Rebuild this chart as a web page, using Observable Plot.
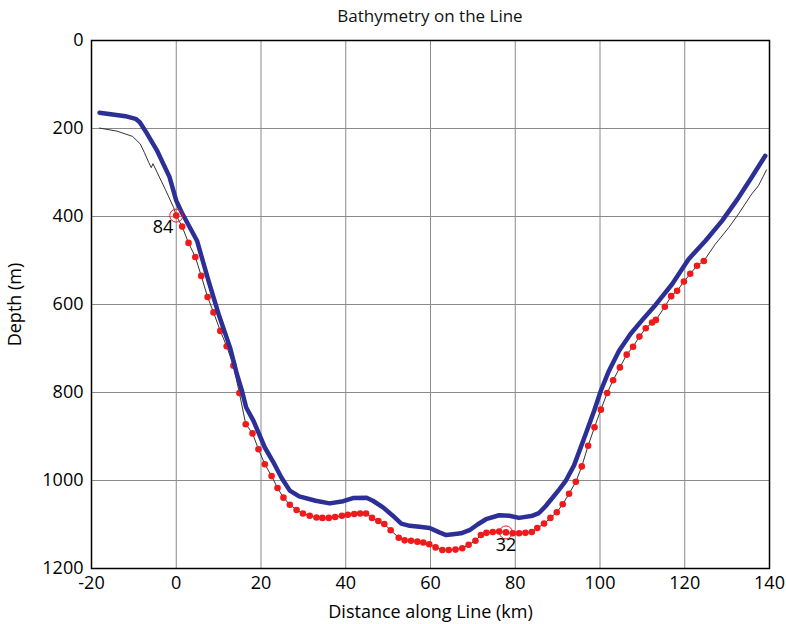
<!DOCTYPE html>
<html><head><meta charset="utf-8">
<script src="https://cdn.jsdelivr.net/npm/d3@7"></script>
<script src="https://cdn.jsdelivr.net/npm/@observablehq/plot@0.6"></script>
<style>
body{margin:0;background:#fff;font-family:"Open Sans",sans-serif;}
#title{margin-left:74px;width:712px;text-align:center;font-size:17px;height:28px;line-height:32px;color:#111;}
</style></head><body>
<div id="title">Bathymetry on the Line</div>
<div id="chart"></div>
<script>
const xTicks = [-20, 0, 20, 40, 60, 80, 100, 120, 140];
const yTicks = [0, 200, 400, 600, 800, 1000, 1200];

// blue survey line (km, depth m)
const blueKm = [-18.1,-15,-12,-9.6,-8.6,-7,-4.6,-1.6,0,1.3,4.9,7.6,10.0,12.7,14.3,15.5,16.5,18.2,20.9,22.9,24.8,26.8,29,32.9,36.2,39.4,41.7,44.9,46.4,48.8,51.1,53.1,55.1,57.4,59.8,62.1,63.7,65.3,67.2,69.2,71.1,73.1,76.2,78.6,80.9,84.1,85.6,87.2,90.4,91.9,93.9,96.6,98.6,100.2,102.1,104.5,107.2,110,113.1,117,120.9,124.9,128.8,132.7,135.8,139];
const blueDepth = [164,168,172,178,186,210,249,310,364,391,455,546,622,698,758,796,834,864,925,958,993,1023,1036,1046,1052,1047,1040,1039,1046,1061,1080,1098,1103,1105,1108,1118,1124,1122,1120,1113,1100,1088,1079,1080,1085,1080,1074,1058,1020,1001,965,895,842,796,751,705,667,635,601,554,497,455,410,357,311,262];

// stations (red dots), from station 84 down to station 1
const stationKm = [0,1.4,2.9,4.5,5.9,7.4,8.8,10.4,11.9,13.5,14.9,16.4,18.0,19.4,20.9,22.5,23.9,25.3,26.8,28.4,29.9,31.5,33.1,34.5,36.0,37.5,39.1,40.5,42.0,43.4,44.8,46.2,47.7,49.1,50.6,52.5,53.9,55.4,56.9,58.3,59.7,61.2,62.8,64.3,65.9,67.5,69.0,70.6,71.9,73.2,74.7,76.2,77.8,79.4,80.9,82.4,83.9,85.2,86.8,88.3,89.8,91.2,92.7,94.3,95.7,97.2,98.7,100.2,101.7,103.1,104.7,106.3,107.8,109.3,110.8,112.3,113.2,115.3,116.8,118.2,119.8,121.3,122.9,124.5];
const stationDepth = [398,423,460,492,535,583,618,660,695,739,801,872,893,929,963,990,1017,1039,1055,1067,1075,1080,1084,1085,1085,1083,1080,1078,1076,1075,1075,1085,1092,1099,1113,1130,1136,1137,1139,1141,1145,1152,1158,1158,1157,1154,1146,1137,1124,1119,1117,1116,1118,1120,1120,1119,1117,1108,1098,1085,1072,1054,1030,1003,968,921,879,839,801,772,743,714,696,673,654,641,635,605,581,569,548,530,512,501];

// thin black bathymetry beyond the stations
const blackLeftKm = [-18.1,-14,-10.3,-8.5,-7.5,-6.5,-5.9,-5.5,-4.9,-2.6,-0.6];
const blackLeftDepth = [199,206,218,235,255,277,289,280,292,338,380];
const blackRightKm = [127.2,130.4,132.7,135.8,137.4,139.3];
const blackRightDepth = [463,425,394,349,330,294];

// labelled stations
const markedNames = ["84", "32"];
const markedIndex = [0, 52];

const blue = blueKm.map((x, i) => ({x, y: blueDepth[i]}));
const stations = stationKm.map((x, i) => ({x, y: stationDepth[i]}));
const black = [
  ...blackLeftKm.map((x, i) => ({x, y: blackLeftDepth[i]})),
  ...stations,
  ...blackRightKm.map((x, i) => ({x, y: blackRightDepth[i]}))
];
const marked = markedNames.map((name, i) => ({name, ...stations[markedIndex[i]]}));
const fmt = d => String(d);

const plot = Plot.plot({
  width: 786, height: 596,
  marginTop: 12, marginBottom: 56, marginLeft: 91, marginRight: 17,
  style: {fontFamily: "Open Sans, sans-serif", fontSize: "18px", color: "#000", background: "#fff"},
  x: {domain: [-20, 140]},
  y: {domain: [0, 1200], reverse: true},
  marks: [
    Plot.ruleX(xTicks, {stroke: "#8a8a8a", strokeWidth: 1}),
    Plot.ruleY(yTicks, {stroke: "#8a8a8a", strokeWidth: 1}),
    Plot.axisX({ticks: xTicks, tickFormat: fmt, tickSize: 0, tickPadding: 8, fontSize: 18, label: "Distance along Line (km)", labelAnchor: "center", labelArrow: "none", labelOffset: 49}),
    Plot.axisY({ticks: yTicks, tickFormat: fmt, tickSize: 0, tickPadding: 8, fontSize: 18, label: "Depth (m)", labelAnchor: "center", labelArrow: "none", labelOffset: 83}),
    Plot.line(black, {x: "x", y: "y", stroke: "#333", strokeWidth: 1}),
    Plot.dot(stations, {x: "x", y: "y", r: 3.3, fill: "#f01a1a", stroke: "none"}),
    Plot.line(blue, {x: "x", y: "y", stroke: "#2b2f96", strokeWidth: 4.5, strokeLinejoin: "round", strokeLinecap: "round"}),
    Plot.dot(marked, {x: "x", y: "y", r: 6.5, fill: "none", stroke: "#f01a1a", strokeWidth: 1}),
    Plot.text(marked.slice(0, 1), {x: "x", y: "y", text: "name", textAnchor: "end", dx: -3, dy: 12, fontSize: 18}),
    Plot.text(marked.slice(1), {x: "x", y: "y", text: "name", textAnchor: "middle", dx: 0, dy: 13, fontSize: 18}),
    Plot.frame({stroke: "#000", strokeWidth: 1.5})
  ]
});
document.getElementById("chart").appendChild(plot);
</script>
</body></html>
